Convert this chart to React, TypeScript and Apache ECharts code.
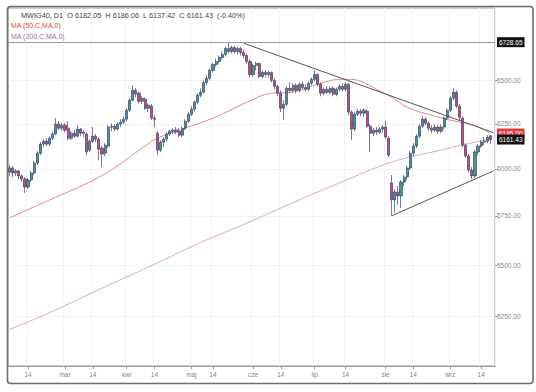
import React, { useEffect, useRef } from "react";
import * as echarts from "echarts";

const FONT = "Liberation Sans, Arial, sans-serif";

// ---- categories (trading days, GPW 2024) ----
const FIRST_DAY = "2024-02-06";
const N_CATEGORIES = 158;
const HOLIDAYS = ["2024-03-29", "2024-04-01", "2024-05-01", "2024-05-03", "2024-05-30", "2024-08-15"];

// ---- x-axis tick labels ----
const TICK_DATES = [
  "2024-02-14", "2024-03-01", "2024-03-14", "2024-04-02", "2024-04-15", "2024-05-02", "2024-05-14",
  "2024-06-03", "2024-06-14", "2024-07-01", "2024-07-15", "2024-08-01", "2024-08-14", "2024-09-02", "2024-09-16",
];
const TICK_LABELS = ["14", "mar", "14", "kwi", "14", "maj", "14", "cze", "14", "lip", "14", "sie", "14", "wrz", "14"];

// ---- y-axis tick values ----
const Y_TICKS = [5250, 5500, 5750, 6000, 6250, 6500];

// ---- daily candles: [open, close, low, high] ----
const CANDLES: number[][] = [
  [5983, 6005, 5962, 6021], [6005, 5978, 5956, 6016], [5978, 5989, 5962, 6000], [5989, 5962, 5945, 5994],
  [5962, 5945, 5929, 5972], [5945, 5903, 5871, 5956], [5903, 5940, 5892, 5951], [5940, 5978, 5929, 5989],
  [5978, 6032, 5967, 6043], [6032, 6086, 6021, 6097], [6086, 6136, 6075, 6147], [6136, 6152, 6119, 6164],
  [6152, 6136, 6125, 6169], [6136, 6169, 6125, 6180], [6169, 6192, 6158, 6203], [6192, 6248, 6186, 6282],
  [6248, 6225, 6214, 6264], [6225, 6242, 6208, 6253], [6242, 6214, 6203, 6253], [6225, 6169, 6158, 6264],
  [6169, 6197, 6158, 6208], [6197, 6180, 6169, 6214], [6180, 6220, 6175, 6242], [6220, 6197, 6180, 6225],
  [6197, 6203, 6175, 6214], [6192, 6092, 6075, 6203], [6103, 6152, 6092, 6164], [6152, 6180, 6141, 6231],
  [6180, 6164, 6147, 6192], [6164, 6108, 6048, 6175], [6114, 6081, 6010, 6125], [6086, 6130, 6070, 6141],
  [6125, 6231, 6114, 6242], [6231, 6236, 6208, 6253], [6236, 6220, 6208, 6248], [6220, 6248, 6214, 6259],
  [6248, 6259, 6231, 6276], [6259, 6276, 6248, 6293], [6276, 6327, 6264, 6338], [6327, 6384, 6316, 6396],
  [6384, 6442, 6378, 6471], [6442, 6419, 6401, 6454], [6425, 6378, 6367, 6436], [6378, 6396, 6361, 6407],
  [6390, 6338, 6327, 6401], [6338, 6355, 6316, 6367], [6350, 6282, 6270, 6361], [6282, 6276, 6231, 6298],
  [6197, 6103, 6075, 6208], [6103, 6147, 6092, 6158], [6147, 6164, 6119, 6175], [6164, 6192, 6152, 6203],
  [6192, 6208, 6180, 6220], [6208, 6214, 6192, 6225], [6214, 6203, 6192, 6231], [6208, 6186, 6175, 6225],
  [6186, 6225, 6175, 6236], [6225, 6264, 6214, 6276], [6264, 6304, 6253, 6316], [6304, 6333, 6293, 6350],
  [6333, 6373, 6321, 6384], [6373, 6413, 6361, 6425], [6413, 6430, 6401, 6454], [6430, 6488, 6425, 6500],
  [6488, 6512, 6471, 6529], [6512, 6559, 6500, 6570], [6559, 6594, 6547, 6606], [6594, 6612, 6582, 6630],
  [6612, 6636, 6600, 6648], [6636, 6654, 6624, 6672], [6654, 6690, 6642, 6702], [6690, 6672, 6660, 6728.65],
  [6672, 6696, 6660, 6708], [6696, 6672, 6660, 6708], [6672, 6690, 6654, 6702], [6690, 6666, 6648, 6702],
  [6666, 6648, 6630, 6684], [6648, 6612, 6600, 6660], [6612, 6535, 6517, 6624], [6535, 6588, 6523, 6600],
  [6588, 6600, 6559, 6612], [6600, 6523, 6512, 6606], [6523, 6547, 6512, 6559], [6547, 6535, 6517, 6559],
  [6535, 6547, 6517, 6559], [6547, 6500, 6488, 6553], [6500, 6465, 6448, 6512], [6465, 6425, 6407, 6477],
  [6425, 6338, 6316, 6442], [6338, 6361, 6270, 6384], [6361, 6454, 6350, 6465], [6454, 6442, 6430, 6488],
  [6442, 6471, 6430, 6483], [6471, 6442, 6425, 6483], [6442, 6477, 6430, 6488], [6477, 6459, 6448, 6494],
  [6459, 6448, 6436, 6477], [6448, 6483, 6436, 6494], [6483, 6506, 6471, 6517], [6506, 6535, 6494, 6559],
  [6535, 6477, 6465, 6541], [6477, 6425, 6407, 6488], [6425, 6448, 6413, 6459], [6448, 6430, 6419, 6465],
  [6430, 6454, 6419, 6465], [6454, 6419, 6407, 6465], [6419, 6448, 6407, 6459], [6448, 6465, 6436, 6477],
  [6465, 6448, 6436, 6483], [6448, 6477, 6436, 6488], [6477, 6316, 6298, 6483], [6316, 6220, 6158, 6327],
  [6220, 6304, 6208, 6316], [6304, 6321, 6293, 6333], [6321, 6310, 6293, 6333], [6310, 6327, 6287, 6338],
  [6321, 6236, 6225, 6333], [6236, 6197, 6092, 6248], [6197, 6214, 6180, 6225], [6214, 6203, 6186, 6231],
  [6203, 6220, 6192, 6231], [6220, 6231, 6197, 6242], [6231, 6175, 6164, 6270], [6169, 6075, 6064, 6180],
  [5924, 5834, 5751, 5967], [5834, 5876, 5766, 5892], [5876, 5855, 5808, 5908], [5855, 5929, 5792, 5940],
  [5929, 5956, 5908, 5967], [5956, 6005, 5940, 6016], [6005, 6086, 5994, 6097], [6086, 6125, 6070, 6141],
  [6125, 6180, 6114, 6192], [6180, 6236, 6169, 6248], [6236, 6276, 6225, 6293], [6276, 6253, 6242, 6287],
  [6253, 6225, 6208, 6264], [6225, 6214, 6197, 6242], [6214, 6231, 6203, 6248], [6231, 6208, 6192, 6242],
  [6208, 6231, 6197, 6248], [6231, 6282, 6220, 6293], [6282, 6327, 6270, 6338], [6327, 6396, 6316, 6407],
  [6396, 6430, 6384, 6454], [6430, 6350, 6338, 6442], [6350, 6287, 6270, 6361], [6282, 6130, 6119, 6293],
  [6130, 6070, 6059, 6141], [6070, 5994, 5983, 6081], [5994, 5962, 5945, 6010], [5962, 6092, 5951, 6103],
  [6092, 6125, 6075, 6136], [6125, 6147, 6114, 6158], [6147, 6152, 6130, 6175], [6152, 6175, 6141, 6186],
  [6182.05, 6161.43, 6137.42, 6186.06],
];

// ---- moving averages: [category index, value] ----
const MA50_POINTS: number[][] = [
  [0, 5740], [13, 5834], [26, 5929], [35, 6016], [43, 6114], [48, 6169], [55, 6214], [66, 6282],
  [77, 6373], [85, 6425], [91, 6430], [101, 6483], [107, 6506], [111, 6506], [114, 6494], [119, 6448],
  [124, 6401], [129, 6344], [137, 6298], [143, 6270], [151, 6240], [156, 6195],
];
const MA200_POINTS: number[][] = [
  [0, 5189], [13, 5268], [29, 5379], [46, 5497], [62, 5613], [78, 5720], [94, 5834], [107, 5924],
  [124, 6037], [140, 6103], [151, 6147], [156, 6165],
];

// ---- levels & trend lines ----
const HIGH_LEVEL = 6728.65;
const LAST_CLOSE = 6161.43;
const MA50_LAST = 6195;
const TREND_DOWN = [[76, 6722], [157, 6200]];
const TREND_UP = [[124, 5751], [157, 5989]];

function buildDates(): string[] {
  const out: string[] = [];
  const [y, m, d] = FIRST_DAY.split("-").map(Number);
  const cur = new Date(Date.UTC(y, m - 1, d));
  while (out.length < N_CATEGORIES) {
    const wd = cur.getUTCDay();
    const s = cur.toISOString().slice(0, 10);
    if (wd !== 0 && wd !== 6 && !HOLIDAYS.includes(s)) out.push(s);
    cur.setUTCDate(cur.getUTCDate() + 1);
  }
  return out;
}

export default function App() {
  const ref = useRef<HTMLDivElement>(null);
  useEffect(() => {
    if (!ref.current) return;
    const chart = echarts.init(ref.current, undefined, { renderer: "svg" });
    const dates = buildDates();
    const tickFn = (_i: number, v: string) => TICK_DATES.includes(v);
    const labelOf = (v: string) => {
      const k = TICK_DATES.indexOf(v);
      return k >= 0 ? TICK_LABELS[k] : "";
    };
    const pts = (arr: number[][]) => arr.map(([i, v]) => [dates[i], v]);
    const boxLabel = (text: string, bg: string) => ({
      show: true,
      position: "end",
      distance: 2,
      formatter: text,
      backgroundColor: bg,
      color: "#fff",
      opacity: 1,
      fontSize: 6.5,
      fontFamily: FONT,
      padding: [2, 2, 1, 2],
    });
    const hidden = { color: "rgba(255,255,255,0)", width: 0.1, type: "solid" };

    chart.setOption({
      animation: false,
      backgroundColor: "#fff",
      grid: { left: 8, right: 41, top: 8, bottom: 26, show: true, borderColor: "#9a9a9a", borderWidth: 1 },
      xAxis: {
        type: "category",
        data: dates,
        boundaryGap: true,
        axisLine: { show: true, lineStyle: { color: "#9a9a9a" } },
        axisTick: { show: true, alignWithLabel: true, interval: tickFn, length: 3, lineStyle: { color: "#999" } },
        axisLabel: { interval: tickFn, formatter: labelOf, fontSize: 6.5, color: "#888", margin: 5, fontFamily: FONT },
        splitLine: { show: true, interval: tickFn, lineStyle: { color: "#f2f2f2" } },
      },
      yAxis: {
        type: "log",
        logBase: 10,
        position: "right",
        min: 5020,
        max: 6940,
        axisLine: { show: false },
        axisTick: { show: true, length: 3, customValues: Y_TICKS, lineStyle: { color: "#999" } },
        axisLabel: {
          customValues: Y_TICKS,
          formatter: (v: number) => Number(v).toFixed(2),
          fontSize: 6.5,
          color: "#888",
          margin: 2,
          fontFamily: FONT,
        },
        splitLine: { show: true, lineStyle: { color: "#f2f2f2" } },
      },
      series: [
        {
          name: "MA200",
          type: "line",
          data: pts(MA200_POINTS),
          smooth: 0.4,
          showSymbol: false,
          lineStyle: { color: "#dfa6c8", width: 1 },
          z: 1,
        },
        {
          name: "MA50",
          type: "line",
          data: pts(MA50_POINTS),
          smooth: 0.4,
          showSymbol: false,
          lineStyle: { color: "#e58a82", width: 1 },
          z: 1,
        },
        {
          name: "MWIG40",
          type: "candlestick",
          data: CANDLES,
          barWidth: 2.6,
          itemStyle: {
            color: "#3f9e6e",
            color0: "#d0485c",
            borderColor: "#3c3f80",
            borderColor0: "#3c3f80",
            borderWidth: 0.7,
          },
          z: 3,
          markLine: {
            silent: true,
            symbol: ["none", "none"],
            animation: false,
            data: [
              { yAxis: HIGH_LEVEL, lineStyle: { color: "#9a9a9a", width: 1.2, type: "solid" }, label: boxLabel(HIGH_LEVEL.toFixed(2), "#111") },
              { yAxis: MA50_LAST, lineStyle: hidden, label: boxLabel(MA50_LAST.toFixed(2), "#e03a3a") },
              { yAxis: LAST_CLOSE, lineStyle: hidden, label: boxLabel(LAST_CLOSE.toFixed(2), "#111") },
              [
                { coord: [dates[TREND_DOWN[0][0]], TREND_DOWN[0][1]], lineStyle: { color: "#555", width: 1, type: "solid" }, label: { show: false } },
                { coord: [dates[TREND_DOWN[1][0]], TREND_DOWN[1][1]] },
              ],
              [
                { coord: [dates[TREND_UP[0][0]], TREND_UP[0][1]], lineStyle: { color: "#555", width: 1, type: "solid" }, label: { show: false } },
                { coord: [dates[TREND_UP[1][0]], TREND_UP[1][1]] },
              ],
            ],
          },
        },
      ],
      graphic: [
        {
          type: "text",
          left: 21,
          top: 12,
          z: 100,
          style: {
            text: "MWIG40, D1  O 6182.05  H 6186.06  L 6137.42  C 6161.43  (-0.40%)",
            fontSize: 7.3,
            fill: "#444",
            fontFamily: FONT,
          },
        },
        { type: "text", left: 11, top: 22, z: 100, style: { text: "MA (50,C,MA,0)", fontSize: 7, fill: "#e04848", fontFamily: FONT } },
        { type: "text", left: 11, top: 33, z: 100, style: { text: "MA (200,C,MA,0)", fontSize: 7, fill: "#a868b0", fontFamily: FONT } },
        {
          type: "rect",
          z: 100,
          silent: true,
          shape: { x: 7.5, y: 6.5, width: 525.5, height: 377, r: 3 },
          style: { fill: "none", stroke: "#6e6e6e", lineWidth: 1.6 },
        },
      ],
    });
    return () => chart.dispose();
  }, []);
  return (
    <div
      ref={ref}
      style={{ position: "fixed", left: 0, top: 0, width: 536, height: 392, background: "#fff" }}
    />
  );
}
